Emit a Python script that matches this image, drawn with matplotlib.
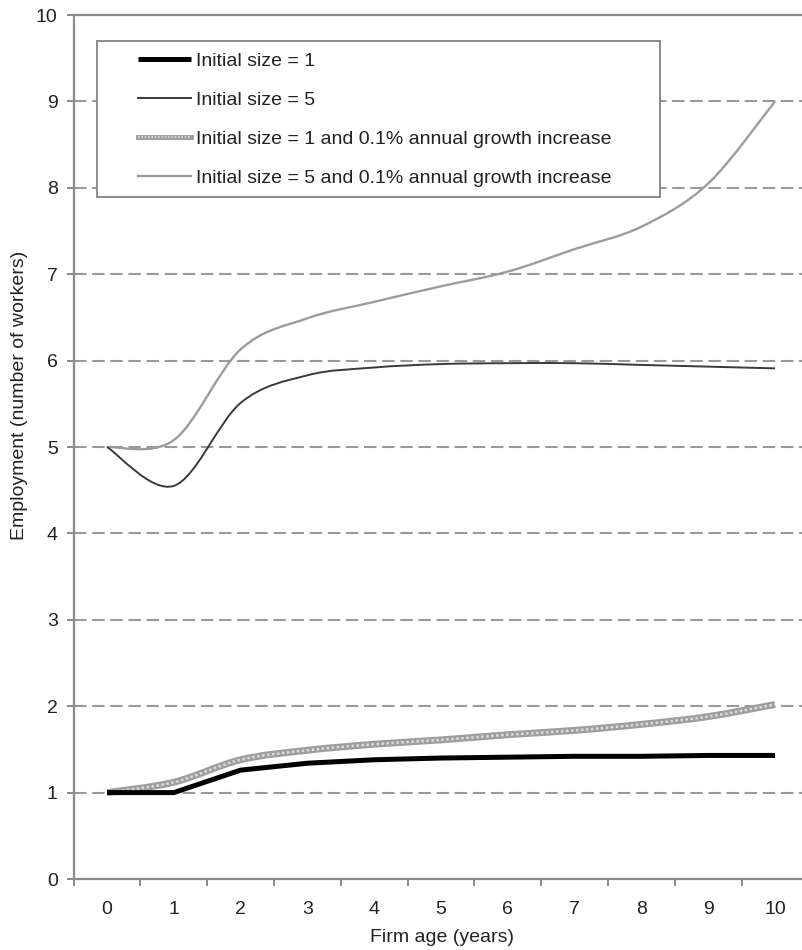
import matplotlib
matplotlib.use("Agg")
import matplotlib.pyplot as plt
from matplotlib.path import Path
from matplotlib.patches import PathPatch, Rectangle
from matplotlib.lines import Line2D

plt.rcParams["font.family"] = ["Liberation Sans", "DejaVu Sans"]

# firm age (years) and employment
ages = list(range(11))
size1 = [1.00, 1.00, 1.26, 1.34, 1.38, 1.40, 1.41, 1.42, 1.42, 1.43, 1.43]
size5 = [5.00, 4.55, 5.51, 5.83, 5.92, 5.96, 5.97, 5.97, 5.95, 5.93, 5.91]
size1_growth = [1.00, 1.12, 1.38, 1.49, 1.56, 1.61, 1.67, 1.72, 1.79, 1.88, 2.02]
size5_growth = [5.00, 5.08, 6.13, 6.49, 6.68, 6.86, 7.03, 7.29, 7.55, 8.05, 9.00]

series_labels = [
    "Initial size = 1",
    "Initial size = 5",
    "Initial size = 1 and 0.1% annual growth increase",
    "Initial size = 5 and 0.1% annual growth increase",
]
x_ticklabels = [str(a) for a in ages]
y_ticks = list(range(11))

GRID = "#9a9a9a"
AXIS = "#8a8a8a"
TEXT = "#222222"


def smooth_path(xs, ys):
    """Excel-style smoothed line: cubic Bezier segments through the points."""
    pts = list(zip(xs, ys))
    verts = [pts[0]]
    codes = [Path.MOVETO]
    n = len(pts)
    for i in range(n - 1):
        p0 = pts[i - 1] if i > 0 else pts[i]
        p1 = pts[i]
        p2 = pts[i + 1]
        p3 = pts[i + 2] if i + 2 < n else pts[i + 1]
        c1 = (p1[0] + (p2[0] - p0[0]) / 6, p1[1] + (p2[1] - p0[1]) / 6)
        c2 = (p2[0] - (p3[0] - p1[0]) / 6, p2[1] - (p3[1] - p1[1]) / 6)
        verts += [c1, c2, p2]
        codes += [Path.CURVE4] * 3
    return Path(verts, codes)


fig = plt.figure(figsize=(8.02, 9.5), dpi=100)
ax = fig.add_axes([73.6 / 802, 71 / 950, 734.8 / 802, 864 / 950])

ax.set_xlim(-0.5, 10.5)
ax.set_ylim(0, 10)

# dashed horizontal gridlines
for v in y_ticks[1:-1]:
    ax.axhline(v, color=GRID, lw=1.5, ls=(0, (6, 2.7)), zorder=1)

# series
ax.plot(ages, size1, color="black", lw=3.6, solid_capstyle="butt",
        solid_joinstyle="miter", zorder=4)
ax.add_patch(PathPatch(smooth_path(ages, size5), fill=False,
                       edgecolor="#3a3a3a", lw=1.4, zorder=4))
ax.add_patch(PathPatch(smooth_path(ages, size1_growth), fill=False,
                       edgecolor="#9e9e9e", lw=5.0, zorder=3))
ax.add_patch(PathPatch(smooth_path(ages, size1_growth), fill=False,
                       edgecolor="#dcdcdc", lw=1.8, ls=(0, (1, 1)), zorder=3))
ax.add_patch(PathPatch(smooth_path(ages, size5_growth), fill=False,
                       edgecolor="#9c9c9c", lw=1.7, zorder=3))

# axes styling
for side in ["left", "bottom", "top"]:
    ax.spines[side].set_color(AXIS)
    ax.spines[side].set_linewidth(1.6)
ax.spines["right"].set_visible(False)

ax.set_yticks(y_ticks)
ax.set_yticklabels([str(v) for v in y_ticks])
ax.tick_params(axis="y", direction="out", length=5, width=1.4, color=AXIS,
               pad=6.5, labelsize=14, labelcolor=TEXT)

ax.set_xticks([a - 0.5 for a in ages])
ax.set_xticklabels([])
ax.set_xticks(ages, minor=True)
ax.set_xticklabels(x_ticklabels, minor=True)
ax.tick_params(axis="x", which="major", direction="out", length=5, width=1.4,
               color=AXIS)
ax.tick_params(axis="x", which="minor", length=0, pad=16, labelsize=14,
               labelcolor=TEXT)

ax.set_xlabel("Firm age (years)", fontsize=14, color=TEXT)
ax.xaxis.set_label_coords(0.501, -0.068)
ax.xaxis.label.set_verticalalignment("center")
ax.set_ylabel("Employment (number of workers)", fontsize=14, color=TEXT)
ax.yaxis.set_label_coords(-0.073, 0.56)
ax.yaxis.label.set_verticalalignment("center")

# legend: fixed white box like the original, entries placed inside
box = Rectangle((97 / 802, 1 - 197 / 950), (660 - 97) / 802, (197 - 41) / 950,
                transform=fig.transFigure, facecolor="white", edgecolor=AXIS,
                lw=1.4, zorder=5)
fig.add_artist(box)

h1 = Line2D([], [], color="black", lw=3.6, solid_capstyle="butt")
h2 = Line2D([], [], color="#3a3a3a", lw=1.4)
h3a = Line2D([], [], color="#9e9e9e", lw=3.5)
h3b = Line2D([], [], color="#dcdcdc", lw=1.2, ls=(0, (1, 1)))
h4 = Line2D([], [], color="#9c9c9c", lw=1.7)
leg = fig.legend([h1, h2, (h3a, h3b), h4], series_labels,
                 loc="upper left", bbox_to_anchor=(138 / 802, 1 - 52 / 950),
                 frameon=False, fontsize=14, borderpad=0, borderaxespad=0,
                 handlelength=2.7, handletextpad=0.3, labelspacing=1.11,
                 labelcolor=TEXT)
leg.set_zorder(6)

fig.savefig("out.png", dpi=100)
